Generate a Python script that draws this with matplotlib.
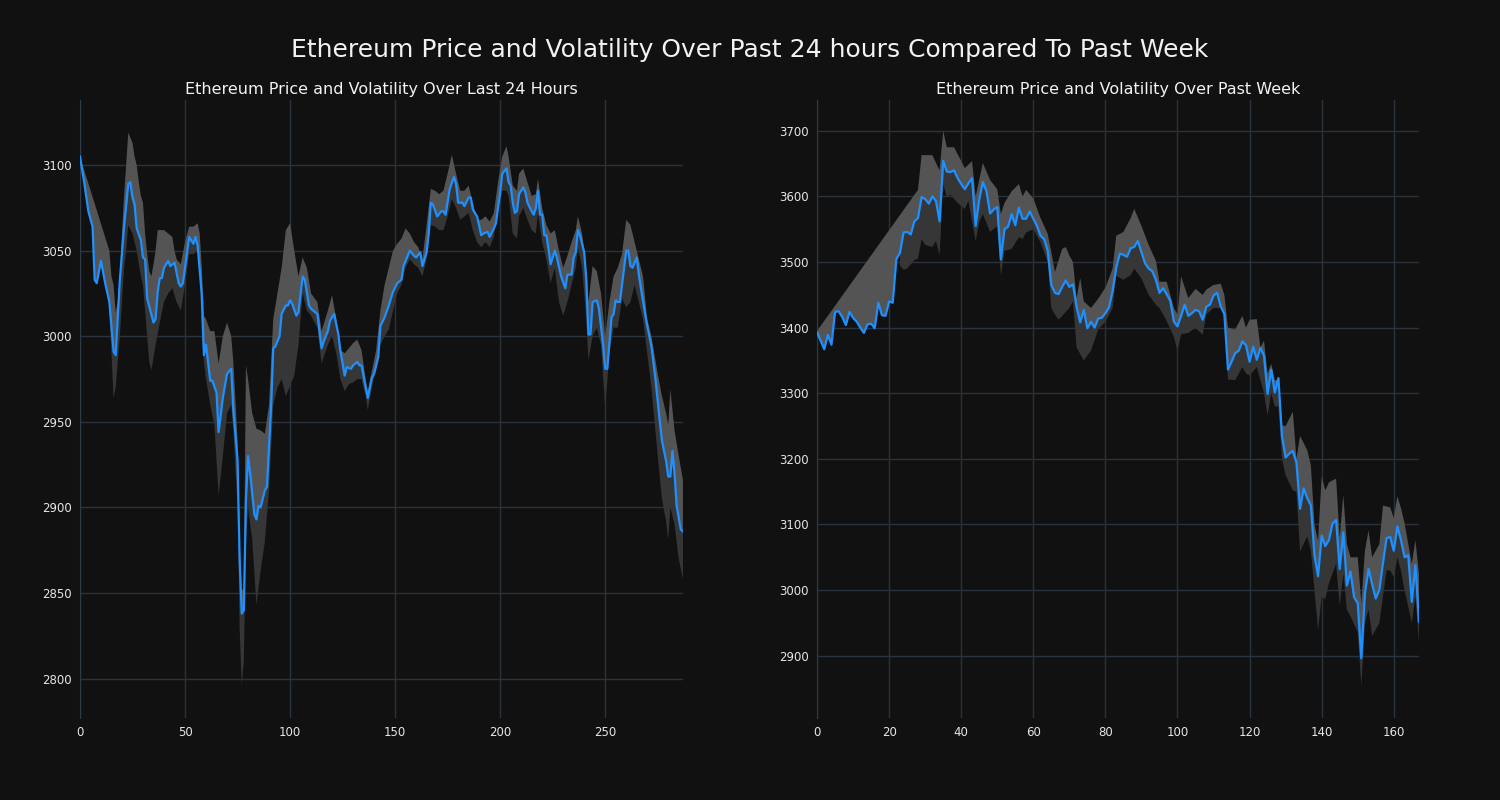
import numpy as np
import matplotlib
matplotlib.use('Agg')
import matplotlib.pyplot as plt

# ---- past 24 hours (index, price) ----
day_price = [(0, 3105), (2, 3090), (4, 3073), (6, 3064), (7, 3033), (8, 3031), (10, 3044), (12, 3031),
             (14, 3020), (16, 2991), (17, 2989), (19, 3033), (21, 3064), (23, 3089), (24, 3090), (25, 3081),
             (26, 3077), (27, 3063), (29, 3056), (30, 3046), (31, 3045), (32, 3022), (35, 3008), (36, 3010),
             (37, 3026), (38, 3034), (39, 3034), (40, 3040), (42, 3044), (43, 3041), (45, 3043), (47, 3031),
             (48, 3029), (49, 3031), (52, 3058), (54, 3054), (55, 3058), (56, 3053), (58, 3024), (59, 2989),
             (60, 2995), (62, 2974), (63, 2974), (65, 2967), (66, 2944), (68, 2964), (70, 2978), (72, 2981),
             (73, 2957), (75, 2928), (76, 2870), (77, 2838), (78, 2840), (79, 2904), (80, 2930), (81, 2920),
             (83, 2896), (84, 2893), (85, 2901), (86, 2900), (88, 2910), (89, 2912), (91, 2959), (92, 2993),
             (93, 2994), (95, 3000), (96, 3013), (98, 3018), (99, 3018), (100, 3021), (101, 3019), (103, 3012),
             (104, 3014), (106, 3035), (107, 3033), (109, 3018), (110, 3016), (112, 3014), (113, 3013),
             (115, 2993), (116, 2997), (118, 3003), (119, 3009), (121, 3013), (123, 3001), (124, 2991),
             (126, 2977), (127, 2982), (129, 2981), (130, 2983), (132, 2985), (133, 2983), (134, 2983),
             (136, 2970), (137, 2964), (139, 2976), (140, 2978), (142, 2988), (143, 3006), (145, 3011),
             (147, 3018), (149, 3026), (151, 3031), (153, 3033), (154, 3041), (156, 3047), (157, 3050),
             (159, 3047), (160, 3046), (162, 3049), (163, 3041), (165, 3049), (166, 3060), (167, 3078),
             (168, 3077), (170, 3070), (172, 3073), (173, 3073), (174, 3071), (176, 3086), (178, 3093),
             (179, 3089), (180, 3078), (182, 3078), (183, 3076), (185, 3081), (186, 3081), (187, 3074),
             (189, 3070), (191, 3059), (192, 3060), (194, 3061), (195, 3058), (197, 3063), (198, 3066),
             (200, 3084), (201, 3095), (203, 3098), (204, 3090), (205, 3088), (206, 3078), (207, 3072),
             (208, 3073), (209, 3083), (211, 3087), (212, 3084), (213, 3078), (215, 3073), (216, 3071),
             (217, 3075), (218, 3085), (219, 3071), (220, 3071), (221, 3059), (222, 3059), (223, 3051),
             (224, 3042), (226, 3050), (227, 3046), (229, 3035), (231, 3028), (232, 3036), (234, 3036),
             (235, 3046), (236, 3049), (237, 3062), (238, 3059), (240, 3049), (241, 3033), (242, 3001),
             (243, 3001), (244, 3020), (246, 3021), (247, 3016), (249, 2995), (250, 2981), (251, 2981),
             (253, 3011), (254, 3013), (255, 3021), (256, 3020), (257, 3020), (259, 3040), (260, 3050),
             (261, 3050), (262, 3041), (263, 3040), (265, 3046), (266, 3036), (267, 3028), (269, 3013),
             (270, 3006), (272, 2994), (274, 2974), (276, 2950), (277, 2939), (279, 2927), (280, 2918),
             (281, 2918), (282, 2933), (283, 2920), (284, 2901), (286, 2887), (287, 2886)]

day_upper = [(0, 3105), (14, 3050), (15, 3035), (16, 3030), (17, 3014), (18, 3020), (19, 3035), (20, 3060),
             (21, 3082), (22, 3100), (23, 3119), (24, 3116), (25, 3113), (26, 3105), (27, 3100), (28, 3090),
             (29, 3082), (30, 3078), (31, 3060), (32, 3048), (33, 3038), (34, 3035), (35, 3042), (36, 3050),
             (37, 3062), (38, 3062), (40, 3062), (42, 3060), (44, 3058), (45, 3050), (46, 3045), (48, 3042),
             (50, 3055), (52, 3064), (54, 3064), (56, 3066), (57, 3060), (58, 3040), (59, 3012), (60, 3010),
             (62, 3003), (64, 3003), (66, 2984), (68, 3000), (70, 3008), (72, 3000), (73, 2985), (75, 2940),
             (76, 2880), (77, 2852), (78, 2852), (79, 2983), (80, 2975), (82, 2955), (84, 2946), (86, 2945),
             (88, 2943), (90, 2960), (92, 3010), (94, 3025), (96, 3040), (98, 3062), (100, 3066), (102, 3050),
             (104, 3035), (106, 3046), (108, 3040), (110, 3025), (113, 3020), (115, 3003), (118, 3015),
             (120, 3024), (122, 3010), (124, 2992), (126, 2990), (128, 2993), (130, 2996), (132, 2998),
             (134, 2992), (136, 2975), (137, 2968), (139, 2980), (141, 2992), (143, 3015), (145, 3030),
             (147, 3040), (149, 3050), (151, 3054), (153, 3057), (155, 3063), (157, 3060), (159, 3055),
             (161, 3052), (163, 3045), (165, 3065), (167, 3086), (169, 3085), (171, 3083), (173, 3085),
             (175, 3095), (177, 3106), (179, 3095), (181, 3085), (183, 3085), (185, 3088), (187, 3078),
             (189, 3068), (191, 3068), (193, 3070), (195, 3067), (197, 3072), (199, 3090), (201, 3105),
             (203, 3111), (204, 3105), (206, 3088), (208, 3085), (209, 3095), (211, 3098), (213, 3090),
             (215, 3082), (217, 3083), (218, 3092), (220, 3075), (222, 3065), (224, 3060), (226, 3062),
             (228, 3050), (230, 3040), (232, 3047), (234, 3055), (236, 3062), (237, 3070), (239, 3060),
             (241, 3040), (242, 3020), (244, 3041), (246, 3038), (248, 3025), (250, 3000), (252, 3020),
             (254, 3035), (256, 3040), (258, 3048), (260, 3068), (262, 3065), (264, 3055), (266, 3045),
             (268, 3035), (270, 3010), (272, 3000), (275, 2978), (277, 2965), (279, 2955), (280, 2948),
             (281, 2969), (283, 2945), (285, 2930), (287, 2916)]

day_lower = [(14, 3015), (15, 2990), (16, 2964), (17, 2970), (19, 3000), (21, 3040), (22, 3050), (23, 3065),
             (25, 3060), (27, 3050), (29, 3035), (30, 3030), (32, 3000), (33, 2985), (34, 2980), (36, 2995),
             (38, 3008), (40, 3020), (42, 3025), (44, 3028), (46, 3020), (48, 3015), (50, 3030), (52, 3048),
             (54, 3048), (56, 3050), (57, 3040), (58, 3000), (59, 2985), (60, 2975), (62, 2960), (64, 2948),
             (66, 2907), (68, 2930), (70, 2955), (72, 2960), (73, 2945), (75, 2900), (76, 2830), (77, 2796),
             (78, 2810), (79, 2880), (80, 2900), (82, 2881), (84, 2843), (86, 2863), (88, 2880), (90, 2910),
             (92, 2960), (94, 2970), (96, 2975), (98, 2965), (100, 2971), (102, 2977), (104, 2995),
             (106, 3025), (108, 3015), (110, 3012), (113, 3005), (115, 2984), (118, 2995), (120, 3000),
             (122, 2990), (124, 2975), (126, 2968), (128, 2972), (130, 2973), (132, 2975), (134, 2975),
             (136, 2965), (137, 2957), (139, 2970), (141, 2982), (143, 2995), (145, 3000), (147, 3004),
             (149, 3015), (151, 3025), (153, 3030), (155, 3040), (157, 3045), (159, 3042), (161, 3040),
             (163, 3035), (165, 3045), (167, 3065), (169, 3064), (171, 3062), (173, 3062), (175, 3070),
             (177, 3080), (179, 3075), (181, 3068), (183, 3070), (185, 3072), (187, 3062), (189, 3055),
             (191, 3052), (193, 3055), (195, 3052), (197, 3058), (199, 3075), (201, 3085), (203, 3085),
             (204, 3082), (206, 3060), (208, 3057), (209, 3070), (211, 3075), (213, 3068), (215, 3062),
             (217, 3060), (218, 3072), (220, 3055), (222, 3045), (224, 3031), (226, 3040), (228, 3020),
             (230, 3012), (232, 3020), (234, 3030), (236, 3040), (237, 3052), (239, 3040), (241, 3010),
             (242, 2986), (244, 3000), (246, 3005), (248, 2995), (250, 2958), (252, 2990), (254, 3005),
             (256, 3005), (258, 3022), (260, 3017), (262, 3020), (264, 3030), (266, 3020), (268, 3010),
             (270, 2990), (272, 2970), (275, 2930), (277, 2905), (279, 2892), (280, 2881), (281, 2900),
             (283, 2890), (285, 2870), (287, 2858)]

# ---- past week (hourly price, index 0..167) ----
week_price = [3393, 3380, 3367, 3389, 3374, 3424, 3425, 3416, 3404, 3424, 3415, 3409, 3400, 3392, 3405, 3406,
              3399, 3438, 3419, 3418, 3440, 3438, 3504, 3514, 3545, 3546, 3542, 3562, 3567, 3599, 3596, 3589,
              3600, 3593, 3562, 3654, 3638, 3637, 3640, 3628, 3619, 3611, 3620, 3628, 3555, 3595, 3622, 3608,
              3574, 3580, 3584, 3504, 3550, 3554, 3573, 3556, 3583, 3566, 3566, 3577, 3566, 3555, 3540, 3535,
              3517, 3465, 3453, 3451, 3462, 3472, 3462, 3466, 3432, 3408, 3427, 3399, 3409, 3400, 3414, 3415,
              3422, 3431, 3456, 3491, 3513, 3511, 3508, 3521, 3523, 3532, 3515, 3498, 3490, 3486, 3473, 3453,
              3460, 3451, 3441, 3409, 3402, 3418, 3435, 3418, 3422, 3427, 3425, 3412, 3432, 3435, 3449, 3453,
              3432, 3421, 3336, 3348, 3361, 3365, 3379, 3373, 3348, 3371, 3351, 3369, 3357, 3299, 3336, 3301,
              3323, 3234, 3202, 3208, 3212, 3194, 3124, 3155, 3140, 3129, 3053, 3021, 3083, 3067, 3076, 3101,
              3107, 3032, 3088, 3007, 3028, 2989, 2980, 2896, 2995, 3032, 3009, 2987, 3000, 3041, 3079, 3081,
              3060, 3097, 3076, 3050, 3053, 2982, 3038, 2952]

week_upper = [(0, 3395), (28, 3610), (29, 3663), (30, 3663), (32, 3663), (33, 3651), (34, 3640), (35, 3700),
              (36, 3675), (38, 3675), (40, 3654), (41, 3643), (43, 3654), (44, 3600), (46, 3651), (48, 3625),
              (50, 3611), (51, 3573), (52, 3590), (54, 3608), (56, 3619), (57, 3600), (58, 3610), (60, 3597),
              (62, 3567), (64, 3543), (65, 3515), (66, 3485), (68, 3520), (69, 3523), (70, 3510), (71, 3500),
              (72, 3445), (73, 3476), (74, 3440), (76, 3430), (78, 3444), (80, 3461), (82, 3490), (83, 3540),
              (85, 3546), (87, 3567), (88, 3581), (90, 3555), (92, 3526), (94, 3502), (95, 3470), (97, 3470),
              (99, 3430), (100, 3420), (101, 3478), (103, 3445), (105, 3459), (107, 3450), (108, 3458),
              (110, 3465), (112, 3467), (113, 3450), (114, 3400), (116, 3397), (118, 3418), (119, 3400),
              (120, 3412), (122, 3413), (123, 3370), (124, 3380), (125, 3330), (126, 3345), (127, 3320),
              (128, 3320), (129, 3251), (130, 3250), (132, 3272), (133, 3200), (134, 3235), (136, 3213),
              (137, 3190), (138, 3100), (139, 3075), (140, 3173), (141, 3152), (142, 3164), (144, 3170),
              (145, 3080), (146, 3145), (147, 3070), (148, 3050), (150, 3050), (151, 2980), (152, 3060),
              (153, 3091), (154, 3050), (156, 3070), (157, 3129), (159, 3126), (160, 3110), (161, 3143),
              (162, 3125), (163, 3102), (165, 3040), (166, 3076), (167, 3025)]

week_lower = [(23, 3495), (24, 3488), (25, 3490), (27, 3503), (28, 3505), (29, 3535), (30, 3526), (32, 3523),
              (33, 3532), (34, 3510), (35, 3619), (36, 3599), (37, 3603), (39, 3590), (41, 3581), (42, 3593),
              (44, 3532), (45, 3561), (46, 3573), (48, 3546), (50, 3555), (51, 3479), (52, 3517), (54, 3520),
              (56, 3538), (57, 3535), (58, 3545), (60, 3550), (62, 3530), (64, 3500), (65, 3430), (66, 3420),
              (67, 3412), (70, 3430), (71, 3440), (72, 3370), (73, 3360), (74, 3350), (76, 3365), (78, 3397),
              (80, 3409), (82, 3430), (83, 3479), (85, 3473), (87, 3480), (88, 3490), (90, 3475), (92, 3450),
              (94, 3435), (95, 3430), (97, 3410), (99, 3386), (100, 3365), (101, 3390), (103, 3392),
              (105, 3400), (107, 3389), (108, 3420), (110, 3430), (112, 3430), (113, 3415), (114, 3321),
              (116, 3320), (118, 3340), (119, 3330), (120, 3327), (122, 3340), (124, 3300), (125, 3266),
              (126, 3300), (127, 3280), (128, 3280), (129, 3200), (130, 3175), (132, 3152), (133, 3150),
              (134, 3059), (136, 3082), (137, 3060), (138, 3000), (139, 2939), (140, 2990), (141, 2986),
              (142, 3010), (144, 3040), (145, 2977), (146, 3025), (147, 2970), (148, 2960), (150, 2936),
              (151, 2854), (152, 2950), (153, 2970), (154, 2930), (156, 2950), (158, 3030), (159, 3030),
              (160, 3020), (161, 3050), (162, 3030), (163, 3000), (165, 2950), (166, 2990), (167, 2920)]

BG = '#111111'
LIGHT = '#545454'
DARK = '#363636'
GRID = '#2a323b'
BLUE = '#1e90ff'


def draw_panel(ax, price, upper, lower, title, xlim, ylim, yticks, xticks):
    px, py = np.array(price, dtype=float).T
    ux, uy = np.array(upper, dtype=float).T
    lx, ly = np.array(lower, dtype=float).T

    # volatility band: lighter above the price, darker below
    ax.fill(np.r_[ux, px[::-1]], np.r_[uy, py[::-1]], color=LIGHT, lw=0, zorder=2)
    m = (px >= lx[0]) & (px <= lx[-1])
    ax.fill(np.r_[px[m], lx[::-1]], np.r_[py[m], ly[::-1]], color=DARK, lw=0, zorder=2)
    ax.plot(px, py, color=BLUE, lw=1.6, zorder=3)

    ax.set_facecolor(BG)
    ax.set_title(title, color='#f2f2f2', fontsize=11.5, pad=4)
    ax.set_xlim(*xlim)
    ax.set_ylim(*ylim)
    ax.set_yticks(yticks)
    ax.set_xticks(xticks)
    ax.grid(True, color=GRID, lw=1, zorder=0)
    ax.set_axisbelow(True)
    ax.tick_params(colors='#e6e6e6', labelsize=8.5, length=0, pad=6)
    for s in ['top', 'right', 'bottom']:
        ax.spines[s].set_visible(False)
    ax.spines['left'].set_color('#2f3b48')


fig = plt.figure(figsize=(15, 8), dpi=100, facecolor=BG)
ax1 = fig.add_axes([0.0533, 0.1025, 0.402, 0.7725])
ax2 = fig.add_axes([0.5447, 0.1025, 0.4013, 0.7725])

draw_panel(ax1, day_price, day_upper, day_lower,
           'Ethereum Price and Volatility Over Last 24 Hours',
           (0, 287), (2777, 3138), range(2800, 3101, 50), range(0, 251, 50))

week_pts = list(zip(range(len(week_price)), week_price))
draw_panel(ax2, week_pts, week_upper, week_lower,
           'Ethereum Price and Volatility Over Past Week',
           (0, 167), (2805, 3747), range(2900, 3701, 100), range(0, 161, 20))

fig.text(0.5, 0.9375, 'Ethereum Price and Volatility Over Past 24 hours Compared To Past Week',
         ha='center', va='center', color='#f2f2f2', fontsize=18)

fig.savefig('out.png', dpi=100, facecolor=BG)
